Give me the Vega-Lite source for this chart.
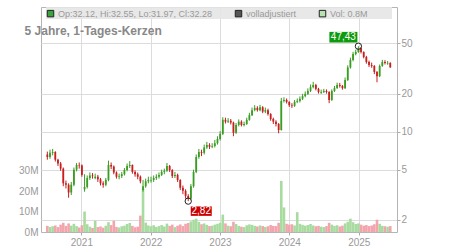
{
  "$schema": "https://vega.github.io/schema/vega-lite/v6.json",
  "width": 356,
  "height": 225,
  "autosize": {"type": "none"},
  "padding": {"left": 41, "top": 7, "right": 53, "bottom": 18},
  "background": "white",
  "config": {
    "font": "Liberation Sans",
    "view": {"stroke": "#b4b4b4"},
    "axis": {"labelColor": "#999999", "labelFontSize": 10, "labelFont": "Liberation Sans", "tickColor": "#aaaaaa", "domain": false, "gridColor": "#dcdcdc", "title": null}
  },
  "title": {"text": "5 Jahre, 1-Tages-Kerzen", "anchor": "start", "font": "Liberation Sans", "fontSize": 12, "fontWeight": "bold", "color": "#888888", "offset": -40, "dx": 6, "baseline": "alphabetic"},
  "datasets": {
    "k": [
      {"d":"2020-07-06","o":6.6,"h":6.95,"l":6.0,"c":6.3,"v":3.0},
      {"d":"2020-07-20","o":6.3,"h":7.2,"l":6.1,"c":6.8,"v":2.5},
      {"d":"2020-08-03","o":6.8,"h":7.3,"l":6.5,"c":6.9,"v":2.8},
      {"d":"2020-08-17","o":6.9,"h":7.0,"l":5.8,"c":6.0,"v":3.2},
      {"d":"2020-08-31","o":6.0,"h":6.1,"l":5.35,"c":5.6,"v":2.4},
      {"d":"2020-09-14","o":5.6,"h":5.75,"l":4.9,"c":5.1,"v":3.6},
      {"d":"2020-09-28","o":5.1,"h":5.2,"l":3.7,"c":3.9,"v":4.5},
      {"d":"2020-10-12","o":3.9,"h":4.1,"l":3.55,"c":3.8,"v":3.0},
      {"d":"2020-10-26","o":3.8,"h":3.9,"l":3.0,"c":3.3,"v":4.2},
      {"d":"2020-11-09","o":3.3,"h":4.0,"l":3.15,"c":3.8,"v":3.1},
      {"d":"2020-11-23","o":3.8,"h":5.2,"l":3.7,"c":5.0,"v":4.0},
      {"d":"2020-12-07","o":5.0,"h":5.65,"l":4.85,"c":5.45,"v":2.9},
      {"d":"2020-12-21","o":5.45,"h":5.7,"l":5.1,"c":5.4,"v":2.2},
      {"d":"2021-01-04","o":5.4,"h":5.5,"l":4.4,"c":4.55,"v":3.3},
      {"d":"2021-01-18","o":3.5,"h":4.6,"l":3.35,"c":3.65,"v":10.0},
      {"d":"2021-02-01","o":3.65,"h":4.5,"l":3.55,"c":4.3,"v":3.8},
      {"d":"2021-02-15","o":4.3,"h":4.75,"l":4.15,"c":4.5,"v":2.6},
      {"d":"2021-03-01","o":4.5,"h":4.7,"l":4.25,"c":4.45,"v":2.0},
      {"d":"2021-03-15","o":4.3,"h":4.65,"l":4.2,"c":4.4,"v":5.5},
      {"d":"2021-03-29","o":4.4,"h":4.55,"l":4.0,"c":4.2,"v":2.4},
      {"d":"2021-04-12","o":4.2,"h":4.3,"l":3.75,"c":3.9,"v":2.7},
      {"d":"2021-04-26","o":3.9,"h":4.05,"l":3.6,"c":3.8,"v":2.1},
      {"d":"2021-05-10","o":3.8,"h":4.3,"l":3.7,"c":4.15,"v":3.0},
      {"d":"2021-05-24","o":4.15,"h":5.9,"l":4.05,"c":5.45,"v":4.8},
      {"d":"2021-06-07","o":5.45,"h":5.7,"l":5.05,"c":5.3,"v":3.4},
      {"d":"2021-06-21","o":5.3,"h":5.4,"l":4.6,"c":4.75,"v":5.5},
      {"d":"2021-07-05","o":4.75,"h":4.85,"l":4.25,"c":4.4,"v":2.5},
      {"d":"2021-07-19","o":4.4,"h":4.65,"l":4.2,"c":4.45,"v":2.2},
      {"d":"2021-08-02","o":4.45,"h":4.8,"l":4.3,"c":4.6,"v":2.8},
      {"d":"2021-08-16","o":4.6,"h":5.15,"l":4.5,"c":4.97,"v":3.1},
      {"d":"2021-08-30","o":4.97,"h":5.6,"l":4.85,"c":5.35,"v":3.9},
      {"d":"2021-09-13","o":5.35,"h":5.85,"l":5.15,"c":5.45,"v":4.4},
      {"d":"2021-09-27","o":5.45,"h":5.5,"l":4.65,"c":4.8,"v":3.0},
      {"d":"2021-10-11","o":4.8,"h":4.95,"l":4.4,"c":4.6,"v":2.3},
      {"d":"2021-10-25","o":4.6,"h":4.75,"l":4.2,"c":4.4,"v":2.6},
      {"d":"2021-11-08","o":4.4,"h":4.5,"l":3.9,"c":4.05,"v":8.0},
      {"d":"2021-11-22","o":3.45,"h":4.15,"l":3.35,"c":3.7,"v":21.0},
      {"d":"2021-12-06","o":3.7,"h":4.25,"l":3.6,"c":4.05,"v":4.6},
      {"d":"2021-12-20","o":4.05,"h":4.4,"l":3.9,"c":4.15,"v":3.2},
      {"d":"2022-01-03","o":4.1,"h":4.4,"l":3.95,"c":4.15,"v":2.8},
      {"d":"2022-01-17","o":4.15,"h":4.5,"l":4.0,"c":4.3,"v":3.3},
      {"d":"2022-01-31","o":4.3,"h":4.6,"l":4.15,"c":4.4,"v":2.5},
      {"d":"2022-02-14","o":4.4,"h":4.75,"l":4.25,"c":4.55,"v":2.9},
      {"d":"2022-02-28","o":4.55,"h":5.0,"l":4.45,"c":4.8,"v":3.4},
      {"d":"2022-03-14","o":4.8,"h":5.1,"l":4.6,"c":4.9,"v":2.7},
      {"d":"2022-03-28","o":4.9,"h":5.65,"l":4.8,"c":5.35,"v":4.1},
      {"d":"2022-04-11","o":5.35,"h":5.45,"l":4.8,"c":4.97,"v":3.0},
      {"d":"2022-04-25","o":4.97,"h":5.05,"l":4.3,"c":4.45,"v":3.6},
      {"d":"2022-05-09","o":4.45,"h":4.8,"l":4.3,"c":4.55,"v":2.4},
      {"d":"2022-05-23","o":4.55,"h":4.65,"l":4.0,"c":4.15,"v":3.1},
      {"d":"2022-06-06","o":4.15,"h":4.2,"l":3.45,"c":3.6,"v":3.7},
      {"d":"2022-06-20","o":3.6,"h":3.75,"l":3.2,"c":3.4,"v":2.9},
      {"d":"2022-07-04","o":3.4,"h":3.5,"l":2.95,"c":3.1,"v":4.0},
      {"d":"2022-07-18","o":3.1,"h":3.2,"l":2.82,"c":2.95,"v":4.4},
      {"d":"2022-08-01","o":2.95,"h":3.85,"l":2.9,"c":3.7,"v":5.2},
      {"d":"2022-08-15","o":3.7,"h":5.0,"l":3.6,"c":4.8,"v":6.0},
      {"d":"2022-08-29","o":4.8,"h":6.6,"l":4.7,"c":6.3,"v":6.5},
      {"d":"2022-09-12","o":6.3,"h":7.3,"l":6.1,"c":6.9,"v":5.0},
      {"d":"2022-09-26","o":6.9,"h":7.2,"l":6.4,"c":6.8,"v":3.8},
      {"d":"2022-10-10","o":6.8,"h":7.9,"l":6.6,"c":7.5,"v":4.2},
      {"d":"2022-10-24","o":7.5,"h":8.3,"l":7.3,"c":7.84,"v":3.5},
      {"d":"2022-11-07","o":7.84,"h":8.1,"l":7.3,"c":7.6,"v":2.9},
      {"d":"2022-11-21","o":7.6,"h":8.1,"l":7.4,"c":7.7,"v":3.1},
      {"d":"2022-12-05","o":7.7,"h":8.6,"l":7.5,"c":8.1,"v":3.6},
      {"d":"2022-12-19","o":8.1,"h":9.2,"l":7.9,"c":8.75,"v":4.0},
      {"d":"2023-01-02","o":8.75,"h":10.1,"l":8.5,"c":9.6,"v":4.5},
      {"d":"2023-01-16","o":9.6,"h":13.0,"l":9.4,"c":12.4,"v":8.5},
      {"d":"2023-01-30","o":12.4,"h":12.9,"l":11.6,"c":12.0,"v":4.2},
      {"d":"2023-02-13","o":12.0,"h":12.8,"l":11.7,"c":12.2,"v":3.1},
      {"d":"2023-02-27","o":12.2,"h":12.6,"l":11.4,"c":11.8,"v":2.8},
      {"d":"2023-03-13","o":11.8,"h":12.0,"l":9.2,"c":9.8,"v":5.0},
      {"d":"2023-03-27","o":9.8,"h":11.7,"l":9.6,"c":11.3,"v":3.9},
      {"d":"2023-04-10","o":11.3,"h":12.5,"l":11.0,"c":12.0,"v":3.0},
      {"d":"2023-04-24","o":12.0,"h":12.3,"l":11.0,"c":11.3,"v":2.6},
      {"d":"2023-05-08","o":11.3,"h":12.0,"l":11.0,"c":11.5,"v":2.4},
      {"d":"2023-05-22","o":11.5,"h":12.9,"l":11.3,"c":12.4,"v":3.3},
      {"d":"2023-06-05","o":12.4,"h":14.1,"l":12.2,"c":13.5,"v":3.7},
      {"d":"2023-06-19","o":13.5,"h":15.5,"l":13.3,"c":14.8,"v":3.5},
      {"d":"2023-07-03","o":14.8,"h":16.2,"l":14.5,"c":15.4,"v":3.0},
      {"d":"2023-07-17","o":15.4,"h":15.9,"l":14.4,"c":14.8,"v":2.7},
      {"d":"2023-07-31","o":14.8,"h":16.3,"l":14.5,"c":15.6,"v":3.2},
      {"d":"2023-08-14","o":15.6,"h":15.9,"l":14.0,"c":14.4,"v":2.9},
      {"d":"2023-08-28","o":14.4,"h":15.5,"l":14.0,"c":14.8,"v":2.5},
      {"d":"2023-09-11","o":14.8,"h":15.2,"l":13.4,"c":13.8,"v":2.8},
      {"d":"2023-09-25","o":13.8,"h":14.0,"l":12.2,"c":12.6,"v":3.4},
      {"d":"2023-10-09","o":12.6,"h":12.9,"l":11.5,"c":12.0,"v":3.0},
      {"d":"2023-10-23","o":12.0,"h":12.3,"l":11.0,"c":11.5,"v":2.9},
      {"d":"2023-11-06","o":11.5,"h":11.7,"l":9.7,"c":10.3,"v":4.5},
      {"d":"2023-11-20","o":10.3,"h":18.5,"l":10.2,"c":17.5,"v":25.0},
      {"d":"2023-12-04","o":17.5,"h":18.7,"l":17.0,"c":17.8,"v":12.0},
      {"d":"2023-12-18","o":17.8,"h":18.3,"l":16.7,"c":17.2,"v":4.0},
      {"d":"2024-01-01","o":17.2,"h":17.4,"l":15.7,"c":16.2,"v":3.6},
      {"d":"2024-01-15","o":16.2,"h":16.8,"l":15.4,"c":16.0,"v":3.8},
      {"d":"2024-01-29","o":16.0,"h":17.8,"l":15.7,"c":17.2,"v":3.2},
      {"d":"2024-02-12","o":17.2,"h":18.3,"l":16.8,"c":17.5,"v":9.7},
      {"d":"2024-02-26","o":17.5,"h":19.0,"l":17.0,"c":18.2,"v":4.0},
      {"d":"2024-03-11","o":18.2,"h":19.9,"l":17.8,"c":19.1,"v":3.5},
      {"d":"2024-03-25","o":19.1,"h":20.8,"l":18.7,"c":19.9,"v":3.1},
      {"d":"2024-04-08","o":19.9,"h":22.0,"l":19.5,"c":21.0,"v":3.4},
      {"d":"2024-04-22","o":21.0,"h":23.6,"l":20.6,"c":22.5,"v":3.9},
      {"d":"2024-05-06","o":22.5,"h":24.8,"l":22.0,"c":23.4,"v":3.2},
      {"d":"2024-05-20","o":23.4,"h":23.9,"l":21.2,"c":21.8,"v":2.8},
      {"d":"2024-06-03","o":21.8,"h":22.2,"l":20.0,"c":20.6,"v":3.0},
      {"d":"2024-06-17","o":20.3,"h":21.5,"l":19.9,"c":20.6,"v":2.6},
      {"d":"2024-07-01","o":20.6,"h":21.8,"l":20.2,"c":21.0,"v":2.4},
      {"d":"2024-07-15","o":21.0,"h":21.6,"l":20.0,"c":20.6,"v":2.9},
      {"d":"2024-07-29","o":20.6,"h":20.9,"l":16.8,"c":17.8,"v":4.5},
      {"d":"2024-08-12","o":17.8,"h":21.6,"l":17.5,"c":21.0,"v":3.6},
      {"d":"2024-08-26","o":21.0,"h":23.0,"l":20.6,"c":22.1,"v":3.0},
      {"d":"2024-09-09","o":22.1,"h":24.4,"l":21.8,"c":23.4,"v":3.3},
      {"d":"2024-09-23","o":23.4,"h":24.3,"l":22.3,"c":23.0,"v":2.7},
      {"d":"2024-10-07","o":23.0,"h":23.4,"l":21.5,"c":22.1,"v":3.1},
      {"d":"2024-10-21","o":22.1,"h":26.8,"l":21.8,"c":25.6,"v":4.2},
      {"d":"2024-11-04","o":25.6,"h":33.5,"l":25.2,"c":32.2,"v":5.0},
      {"d":"2024-11-18","o":32.2,"h":38.5,"l":31.5,"c":36.9,"v":6.5},
      {"d":"2024-12-02","o":36.9,"h":42.8,"l":36.0,"c":41.1,"v":4.8},
      {"d":"2024-12-16","o":41.1,"h":44.5,"l":40.2,"c":42.7,"v":3.9},
      {"d":"2024-12-30","o":42.7,"h":47.43,"l":42.0,"c":45.8,"v":4.2},
      {"d":"2025-01-13","o":45.8,"h":46.5,"l":41.5,"c":42.7,"v":3.6},
      {"d":"2025-01-27","o":42.7,"h":43.2,"l":38.0,"c":39.0,"v":3.1},
      {"d":"2025-02-10","o":39.0,"h":39.8,"l":34.5,"c":35.6,"v":3.4},
      {"d":"2025-02-24","o":35.6,"h":36.5,"l":32.5,"c":33.7,"v":2.9},
      {"d":"2025-03-10","o":33.7,"h":35.2,"l":32.0,"c":33.1,"v":3.2},
      {"d":"2025-03-24","o":33.1,"h":33.6,"l":28.5,"c":29.7,"v":3.8},
      {"d":"2025-04-07","o":29.7,"h":30.2,"l":24.6,"c":27.5,"v":6.0},
      {"d":"2025-04-21","o":27.5,"h":34.0,"l":27.0,"c":33.1,"v":4.0},
      {"d":"2025-05-05","o":33.1,"h":37.0,"l":32.6,"c":35.6,"v":3.0},
      {"d":"2025-05-19","o":35.6,"h":36.8,"l":34.0,"c":35.0,"v":2.8},
      {"d":"2025-06-02","o":34.6,"h":36.2,"l":33.8,"c":35.0,"v":2.6},
      {"d":"2025-06-16","o":35.0,"h":35.4,"l":31.97,"c":32.28,"v":2.9}
    ]
  },
  "layer": [
    {
      "data": {"name": "k"},
      "mark": {"type": "bar", "width": 2.6},
      "encoding": {
        "x": {"field": "d", "type": "temporal",
          "scale": {"domain": [{"year": 2020, "month": 6, "date": 29}, {"year": 2025, "month": 6, "date": 25}]},
          "axis": {"values": [{"year": 2021, "month": 1, "date": 1}, {"year": 2022, "month": 1, "date": 1}, {"year": 2023, "month": 1, "date": 1}, {"year": 2024, "month": 1, "date": 1}, {"year": 2025, "month": 1, "date": 1}], "format": "%Y", "tickSize": 3, "labelPadding": 2, "grid": true}},
        "y": {"field": "v", "type": "quantitative", "scale": {"domain": [0, 110], "nice": false},
          "axis": {"orient": "left", "values": [0, 10, 20, 30], "labelExpr": "datum.value + 'M'", "ticks": false, "grid": false, "labelPadding": 3}},
        "color": {"condition": {"test": "datum.c >= datum.o", "value": "#a8dba0"}, "value": "#f2a5ad"}
      }
    },
    {
      "layer": [
        {
          "data": {"values": [{"a": 1}]},
          "mark": {"type": "rect", "fill": "#e6e6e6", "opacity": 0.9},
          "encoding": {
            "x": {"datum": {"year": 2020, "month": 6, "date": 29}, "type": "temporal"},
            "x2": {"datum": {"year": 2025, "month": 6, "date": 25}},
            "y": {"datum": 96.9, "type": "quantitative", "scale": {"type": "log", "domain": [1.607, 96.9], "nice": false, "zero": false},
              "axis": {"orient": "right", "values": [2, 5, 10, 20, 50], "format": "d", "tickSize": 3, "labelPadding": 1, "grid": true}},
            "y2": {"datum": 77.8}
          }
        },
        {
          "data": {"name": "k"},
          "mark": {"type": "rule", "strokeWidth": 1},
          "encoding": {
            "x": {"field": "d", "type": "temporal"},
            "y": {"field": "l", "type": "quantitative", "scale": {"type": "log", "domain": [1.607, 96.9], "nice": false, "zero": false}},
            "y2": {"field": "h"},
            "color": {"condition": {"test": "datum.c >= datum.o", "value": "#3a9d23"}, "value": "#c81e1e"}
          }
        },
        {
          "data": {"name": "k"},
          "mark": {"type": "bar", "width": 1.8},
          "encoding": {
            "x": {"field": "d", "type": "temporal"},
            "y": {"field": "o", "type": "quantitative", "scale": {"type": "log", "domain": [1.607, 96.9], "nice": false, "zero": false}},
            "y2": {"field": "c"},
            "color": {"condition": {"test": "datum.c >= datum.o", "value": "#3a9d23"}, "value": "#c81e1e"}
          }
        },
        {
          "data": {"values": [{"d": "2024-12-30", "p": 47.43}, {"d": "2022-07-18", "p": 2.82}]},
          "mark": {"type": "point", "filled": false, "color": "#222222", "size": 40, "strokeWidth": 1, "opacity": 1},
          "encoding": {
            "x": {"field": "d", "type": "temporal"},
            "y": {"field": "p", "type": "quantitative", "scale": {"type": "log", "domain": [1.607, 96.9], "nice": false, "zero": false}}
          }
        },
        {
          "data": {"values": [{"d": "2024-12-30", "p": 47.43, "t": "47,43"}]},
          "mark": {"type": "point", "shape": "M-1,-0.38L1,-0.38L1,0.38L-1,0.38Z", "size": 784, "filled": true, "color": "#0e9a0e", "opacity": 1, "xOffset": -15, "yOffset": -9},
          "encoding": {
            "x": {"field": "d", "type": "temporal"},
            "y": {"field": "p", "type": "quantitative", "scale": {"type": "log", "domain": [1.607, 96.9], "nice": false, "zero": false}}
          }
        },
        {
          "data": {"values": [{"d": "2024-12-30", "p": 47.43, "t": "47,43"}]},
          "mark": {"type": "text", "color": "#ffffff", "font": "Liberation Sans", "fontSize": 10, "dx": -15, "dy": -9, "align": "center", "baseline": "middle"},
          "encoding": {
            "x": {"field": "d", "type": "temporal"},
            "y": {"field": "p", "type": "quantitative", "scale": {"type": "log", "domain": [1.607, 96.9], "nice": false, "zero": false}},
            "text": {"field": "t"}
          }
        },
        {
          "data": {"values": [{"d": "2022-07-18", "p": 2.82, "t": "2,82"}]},
          "mark": {"type": "point", "shape": "M-1,-0.45L1,-0.45L1,0.45L-1,0.45Z", "size": 441, "filled": true, "color": "#cc0000", "opacity": 1, "xOffset": 13, "yOffset": 10},
          "encoding": {
            "x": {"field": "d", "type": "temporal"},
            "y": {"field": "p", "type": "quantitative", "scale": {"type": "log", "domain": [1.607, 96.9], "nice": false, "zero": false}}
          }
        },
        {
          "data": {"values": [{"d": "2022-07-18", "p": 2.82, "t": "2,82"}]},
          "mark": {"type": "text", "color": "#ffffff", "font": "Liberation Sans", "fontSize": 10, "dx": 13, "dy": 10, "align": "center", "baseline": "middle"},
          "encoding": {
            "x": {"field": "d", "type": "temporal"},
            "y": {"field": "p", "type": "quantitative", "scale": {"type": "log", "domain": [1.607, 96.9], "nice": false, "zero": false}},
            "text": {"field": "t"}
          }
        },
        {
          "data": {"values": []},
          "mark": {"type": "square"},
          "encoding": {
            "color": {"field": "k", "type": "nominal",
              "scale": {"domain": ["Op:32.12, Hi:32.55, Lo:31.97, Cl:32.28", "volladjustiert", "Vol: 0.8M"], "range": ["#3aa53a", "#555555", "#b8e2b0"]},
              "legend": {"title": null, "orient": "none", "legendX": 5, "legendY": 2, "direction": "horizontal", "symbolType": "square", "symbolSize": 42, "symbolOpacity": 1, "labelFontSize": 9, "labelColor": "#999999", "labelFont": "Liberation Sans", "labelOffset": 3, "columnPadding": 20, "padding": 0,
                "symbolStrokeColor": "#222222", "symbolStrokeWidth": 1,
                "encode": {"symbols": {"update": {"stroke": {"value": "#222222"}, "strokeWidth": {"value": 1}, "opacity": {"value": 1}}}}}
            }
          }
        }
      ]
    }
  ],
  "resolve": {"scale": {"y": "independent"}}
}
